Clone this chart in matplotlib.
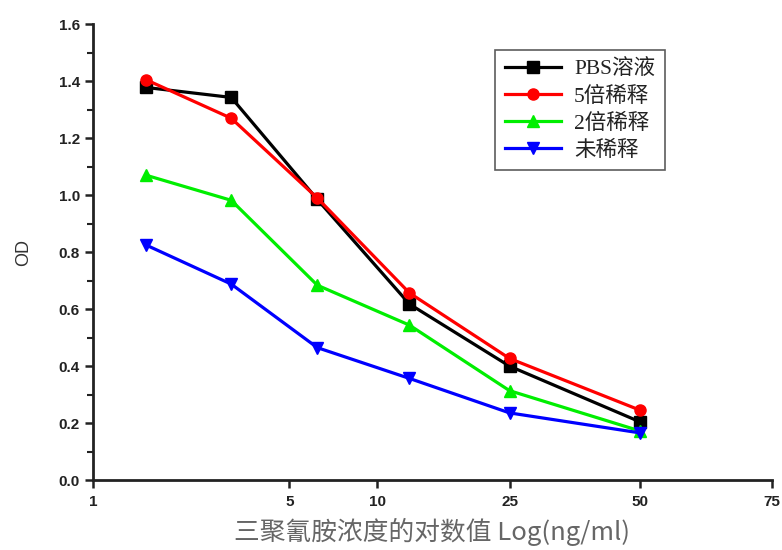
import numpy as np
import matplotlib.pyplot as plt
from matplotlib.ticker import FixedLocator, MultipleLocator

# Dilution points along the concentration axis (axis position units)
x_pos = [0.53, 1.38, 2.24, 3.16, 4.16, 5.46]
tick_pos = [0, 1.96, 2.84, 4.16, 5.46, 6.78]
tick_labels = ['1', '5', '10', '25', '50', '75']

# OD readings for each sample series
od_pbs = [1.378, 1.343, 0.985, 0.618, 0.400, 0.205]
od_5x = [1.405, 1.270, 0.990, 0.657, 0.427, 0.246]
od_2x = [1.070, 0.982, 0.684, 0.544, 0.314, 0.173]
od_none = [0.825, 0.688, 0.465, 0.357, 0.236, 0.166]

series_names = ['PBS溶液', '5倍稀释', '2倍稀释', '未稀释']

fig = plt.figure(figsize=(7.82, 5.5), dpi=100)
ax = fig.add_axes([0.119, 0.127, 0.868, 0.829])

styles = [('black', 's'), ('#ff0000', 'o'), ('#00ee00', '^'), ('#0000ff', 'v')]
for ys, name, (c, m) in zip([od_pbs, od_5x, od_2x, od_none], series_names, styles):
    ax.plot(x_pos, ys, color=c, marker=m, markersize=8, linewidth=2.3, label=name)

ax.set_xlim(0, 6.78)
ax.set_ylim(0, 1.6)
ax.spines['top'].set_visible(False)
ax.spines['right'].set_visible(False)
for side in ['left', 'bottom']:
    ax.spines[side].set_linewidth(2)
    ax.spines[side].set_color('#222222')

ax.xaxis.set_major_locator(FixedLocator(tick_pos))
ax.set_xticklabels(tick_labels)
ax.yaxis.set_major_locator(MultipleLocator(0.2))
ax.yaxis.set_minor_locator(MultipleLocator(0.1))
ax.yaxis.set_major_formatter(plt.FuncFormatter(lambda v, p: f'{v:.1f}'))
ax.tick_params(axis='both', which='major', direction='out', length=6, width=1.8, color='#222222')
ax.tick_params(axis='y', which='minor', direction='out', length=4, width=1.5, color='#222222')
ax.tick_params(axis='x', which='major', pad=5)
for lab in ax.get_xticklabels() + ax.get_yticklabels():
    lab.set_fontfamily('Liberation Sans')
    lab.set_fontweight('bold')
    lab.set_fontsize(11)
    lab.set_color('#222222')

ax.set_ylabel('OD', family=['Liberation Sans'], fontsize=13, color='#333333', labelpad=19)
ax.set_xlabel('三聚氰胺浓度的对数值 Log(ng/ml)', family=['Noto Sans CJK SC', 'DejaVu Sans'],
              fontsize=18.5, color='#666666', labelpad=6)

leg = ax.legend(loc='upper left', bbox_to_anchor=(0.577, 0.967), frameon=True, fancybox=False,
                prop={'family': ['Liberation Serif', 'Noto Sans CJK SC'], 'size': 15.5},
                handlelength=2.6, labelspacing=0.32, borderpad=0.45, handletextpad=0.6)
leg.get_frame().set_edgecolor('#333333')
leg.get_frame().set_linewidth(1.2)
for t in leg.get_texts():
    t.set_color('#222222')

fig.savefig('out.png', dpi=100)
